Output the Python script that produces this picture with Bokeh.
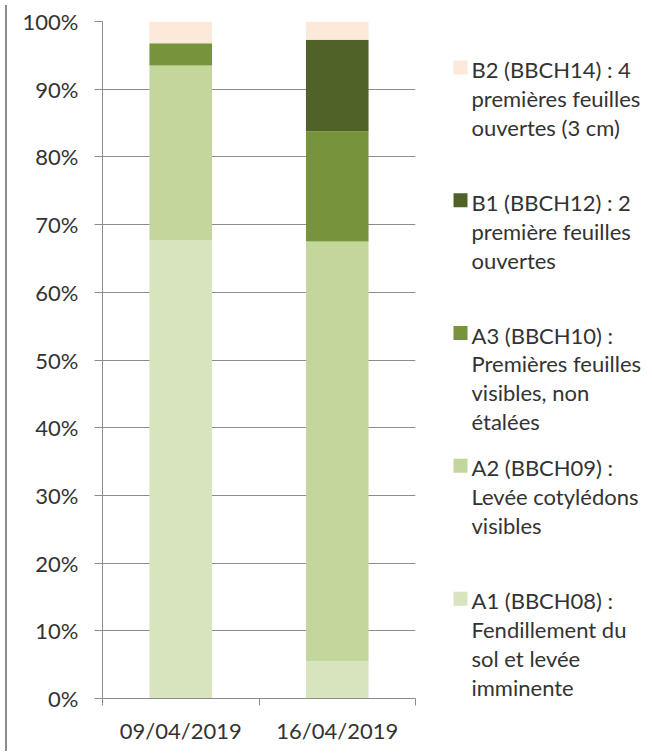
from bokeh.plotting import figure
from bokeh.models import Range1d, FixedTicker, NumeralTickFormatter, Div, ColumnDataSource
from bokeh.layouts import row
from bokeh.core.properties import value
from bokeh.embed import file_html
from bokeh.resources import INLINE

# ---- data ----
dates = ["09/04/2019", "16/04/2019"]
stages = ["A1", "A2", "A3", "B1", "B2"]
A1 = [0.677, 0.055]
A2 = [0.258, 0.620]
A3 = [0.033, 0.163]
B1 = [0.000, 0.135]
B2 = [0.032, 0.027]
colors = ["#d7e4bd", "#c3d69b", "#77933c", "#4f6228", "#fde9d9"]
legend_lines = [
    ["B2 (BBCH14) : 4", "premières feuilles", "ouvertes (3 cm)"],
    ["B1 (BBCH12) : 2", "première feuilles", "ouvertes"],
    ["A3 (BBCH10) :", "Premières feuilles", "visibles, non", "étalées"],
    ["A2 (BBCH09) :", "Levée cotylédons", "visibles"],
    ["A1 (BBCH08) :", "Fendillement du", "sol et levée", "imminente"],
]
legend_colors = ["#fde9d9", "#4f6228", "#77933c", "#c3d69b", "#d7e4bd"]

FONT = "Lato"
TXT = "#333333"
GRID = "#8c8c8c"

H = 746
TOP, BOT = 21, 47
PAGE_Y0 = 1
xs = [i + 0.5 for i in range(len(dates))]
src = ColumnDataSource(dict(x=xs, A1=A1, A2=A2, A3=A3, B1=B1, B2=B2))

p = figure(width=418, height=H, output_backend="svg", toolbar_location=None,
           x_range=Range1d(0, len(dates)), y_range=Range1d(0, 1),
           min_border_left=90, min_border_right=15, min_border_top=TOP, min_border_bottom=BOT)
p.outline_line_color = None
p.vbar_stack(stages, x="x", width=0.4, color=colors, source=src, line_color=None)

p.yaxis.ticker = FixedTicker(ticks=[i / 10 for i in range(11)])
p.yaxis.formatter = NumeralTickFormatter(format="0%")
p.xaxis.ticker = FixedTicker(ticks=xs, minor_ticks=list(range(len(dates) + 1)))
p.xaxis.major_label_overrides = {x: d for x, d in zip(xs, dates)}
p.xaxis.major_tick_out = 0
p.xaxis.major_tick_in = 0
p.xaxis.minor_tick_out = 7
p.xaxis.minor_tick_in = 0
p.yaxis.major_tick_out = 8
p.yaxis.major_tick_in = 0
for ax in (p.xaxis, p.yaxis):
    ax.axis_line_color = GRID
    ax.major_tick_line_color = GRID
    ax.minor_tick_line_color = GRID
    ax.major_label_text_font = FONT
    ax.major_label_text_font_size = "22px"
    ax.major_label_text_color = TXT
p.yaxis.minor_tick_line_color = None
p.yaxis.major_label_standoff = 16
p.xaxis.major_label_standoff = 11
p.xgrid.grid_line_color = None
p.ygrid.grid_line_color = GRID
p.ygrid.grid_line_alpha = 1

# ---- legend panel (same borders so frames align; y in page pixels) ----
frame_top = PAGE_Y0 + TOP
frame_bot = PAGE_Y0 + H - BOT
lg = figure(width=216, height=H, output_backend="svg", toolbar_location=None,
            x_range=Range1d(428, 644), y_range=Range1d(frame_bot, frame_top),
            min_border_left=0, min_border_right=0, min_border_top=TOP, min_border_bottom=BOT)
lg.outline_line_color = None
lg.axis.visible = False
lg.grid.visible = False
tx, ty, tt = [], [], []
sx, sy, sc = [], [], []
for i, (lines, c) in enumerate(zip(legend_lines, legend_colors)):
    top = 70 + i * 133
    sx.append(458)
    sy.append(top - 2)
    sc.append(c)
    for j, t in enumerate(lines):
        tx.append(469)
        ty.append(top + j * 29)
        tt.append(t)
lg.rect(x=sx, y=sy, width=14, height=14, color=sc, line_color=None)
lg.text(x=tx, y=ty, text=tt, text_font=value(FONT), text_font_size=value("22px"),
        text_color=TXT, text_baseline="middle", text_align="left")

border = Div(width=2, height=H, styles={"background-color": "#8c8c8c"})
layout = row(border, p, lg, spacing=0)

open("out.html", "w").write(file_html(layout, INLINE))
